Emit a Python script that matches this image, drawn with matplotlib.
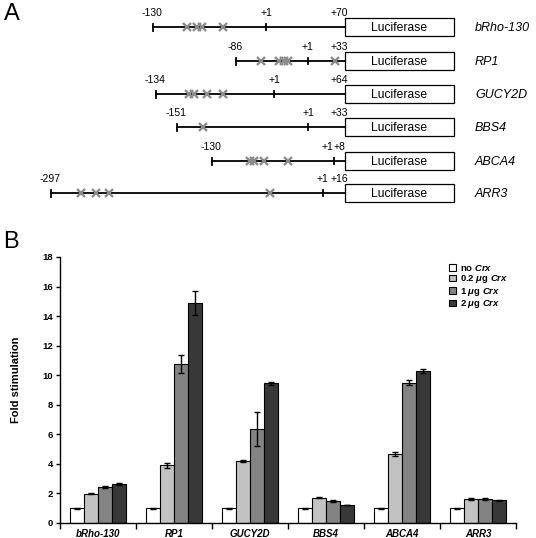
import matplotlib
matplotlib.use("Agg")
import matplotlib.pyplot as plt
import numpy as np
from matplotlib.patches import Rectangle, Patch

plt.rcParams['font.family'] = ['Liberation Sans', 'DejaVu Sans']
plt.rcParams['mathtext.fontset'] = 'custom'
plt.rcParams['mathtext.it'] = 'Liberation Sans:italic:bold'
plt.rcParams['mathtext.rm'] = 'Liberation Sans:bold'

# ---- panel A: promoter constructs (schematic units = pixels of the original figure) ----
constructs = ['bRho-130', 'RP1', 'GUCY2D', 'BBS4', 'ABCA4', 'ARR3']
start_labels = ['-130', '-86', '-134', '-151', '-130', '-297']
end_labels = ['+70', '+33', '+64', '+33', '+8', '+16']
start_x = [153, 236, 156, 177, 212, 51]
tss_x = [266, 308, 274, 308, 334, 323]
tss_label_x = [266, 307, 274, 308, 327, 322]
sites_x = [[187, 197, 202, 223],
           [261, 279, 284, 288, 335],
           [189, 194, 207, 223],
           [203],
           [250, 254, 264, 288],
           [81, 96, 109, 270]]
row_y = [27, 61, 94, 127, 161, 193]
box_x0, box_x1 = 345, 454

# ---- panel B: fold stimulation ----
genes = ['bRho-130', 'RP1', 'GUCY2D', 'BBS4', 'ABCA4', 'ARR3']
no_crx = [1.0, 1.0, 1.0, 1.0, 1.0, 1.0]
crx_02 = [1.97, 3.9, 4.2, 1.72, 4.68, 1.62]
crx_1 = [2.45, 10.75, 6.38, 1.5, 9.5, 1.6]
crx_2 = [2.63, 14.9, 9.45, 1.2, 10.3, 1.55]
err_no = [0.03, 0.03, 0.03, 0.02, 0.03, 0.02]
err_02 = [0.04, 0.15, 0.04, 0.03, 0.12, 0.04]
err_1 = [0.06, 0.6, 1.15, 0.05, 0.15, 0.07]
err_2 = [0.06, 0.8, 0.08, 0.0, 0.15, 0.04]
series_labels = [r'no $\mathit{Crx}$', r'0.2 $\mathit{\mu}$g $\mathit{Crx}$',
                 r'1 $\mathit{\mu}$g $\mathit{Crx}$', r'2 $\mathit{\mu}$g $\mathit{Crx}$']
colors = ['white', '#c2c2c2', '#838383', '#383838']

fig = plt.figure(figsize=(5.36, 5.38), dpi=100)

# panel A drawn in pixel coordinates
ax_a = fig.add_axes([0, 0, 1, 1])
ax_a.set_xlim(0, 536)
ax_a.set_ylim(538, 0)
ax_a.axis('off')

ax_a.text(4, 14, 'A', fontsize=17, va='center', ha='left')
for i, name in enumerate(constructs):
    y = row_y[i]
    ax_a.plot([start_x[i], box_x0], [y, y], color='black', lw=1.3, zorder=2)
    ax_a.plot([start_x[i], start_x[i]], [y - 3.5, y + 3.5], color='black', lw=1.3)
    ax_a.plot([tss_x[i], tss_x[i]], [y - 3, y + 3], color='black', lw=1.3)
    ax_a.plot(sites_x[i], [y] * len(sites_x[i]), ls='none', marker='x',
              ms=5.5, mew=1.7, color='#8c8c8c', zorder=3)
    ax_a.add_patch(Rectangle((box_x0, y - 9), box_x1 - box_x0, 18,
                             facecolor='white', edgecolor='black', lw=0.9))
    ax_a.text((box_x0 + box_x1) / 2, y + 1, 'Luciferase', fontsize=8.7,
              ha='center', va='center')
    ax_a.text(475, y + 1, name, fontsize=9, style='italic', ha='left', va='center')
    ax_a.text(start_x[i] - 1, y - 14, start_labels[i], fontsize=7.5, ha='center', va='center')
    ax_a.text(tss_label_x[i], y - 14, '+1', fontsize=7.5, ha='center', va='center')
    ax_a.text(box_x0 - 6, y - 14, end_labels[i], fontsize=7.5, ha='center', va='center')

ax_a.text(3, 242, 'B', fontsize=17, va='center', ha='left')

# panel B bar chart
ax = fig.add_axes([60 / 536, 1 - 523 / 538, 456 / 536, 266 / 538])
x = np.arange(len(genes))
w = 0.185
series = [no_crx, crx_02, crx_1, crx_2]
errs = [err_no, err_02, err_1, err_2]
for k in range(4):
    ax.bar(x + (k - 1.5) * w, series[k], w, yerr=errs[k], color=colors[k],
           edgecolor='black', linewidth=0.8, capsize=2.2,
           error_kw=dict(elinewidth=1.0, capthick=1.0, ecolor='black'))

ax.set_xlim(-0.5, len(genes) - 0.5)
ax.set_ylim(0, 18)
ax.set_yticks(np.arange(0, 19, 2))
ax.spines['top'].set_visible(False)
ax.spines['right'].set_visible(False)
ax.spines['left'].set_linewidth(1.0)
ax.spines['bottom'].set_linewidth(1.0)
ax.tick_params(axis='y', direction='out', length=3, width=1, labelsize=6.8, pad=2)
for t in ax.get_yticklabels():
    t.set_fontweight('bold')
ax.set_xticks(x)
ax.set_xticklabels(genes, fontsize=7, fontweight='bold', style='italic')
ax.tick_params(axis='x', length=0, pad=4)
ax.set_xticks(np.arange(-0.5, len(genes), 1), minor=True)
ax.tick_params(axis='x', which='minor', direction='out', length=4, width=1)
ax.set_ylabel('Fold stimulation', fontsize=8, fontweight='bold', labelpad=5)
ax.yaxis.set_label_coords(-0.085, 0.54)

handles = [Patch(facecolor=c, edgecolor='black', linewidth=0.8) for c in colors]
leg = ax.legend(handles, series_labels, loc='upper left', frameon=False,
                bbox_to_anchor=(449 / 536, 1 - 263 / 538), bbox_transform=fig.transFigure,
                prop={'size': 6.8, 'weight': 'bold'}, handlelength=0.7, handleheight=0.7,
                handletextpad=0.5, labelspacing=0.05, borderpad=0, borderaxespad=0)

fig.savefig('out.png', dpi=100)
